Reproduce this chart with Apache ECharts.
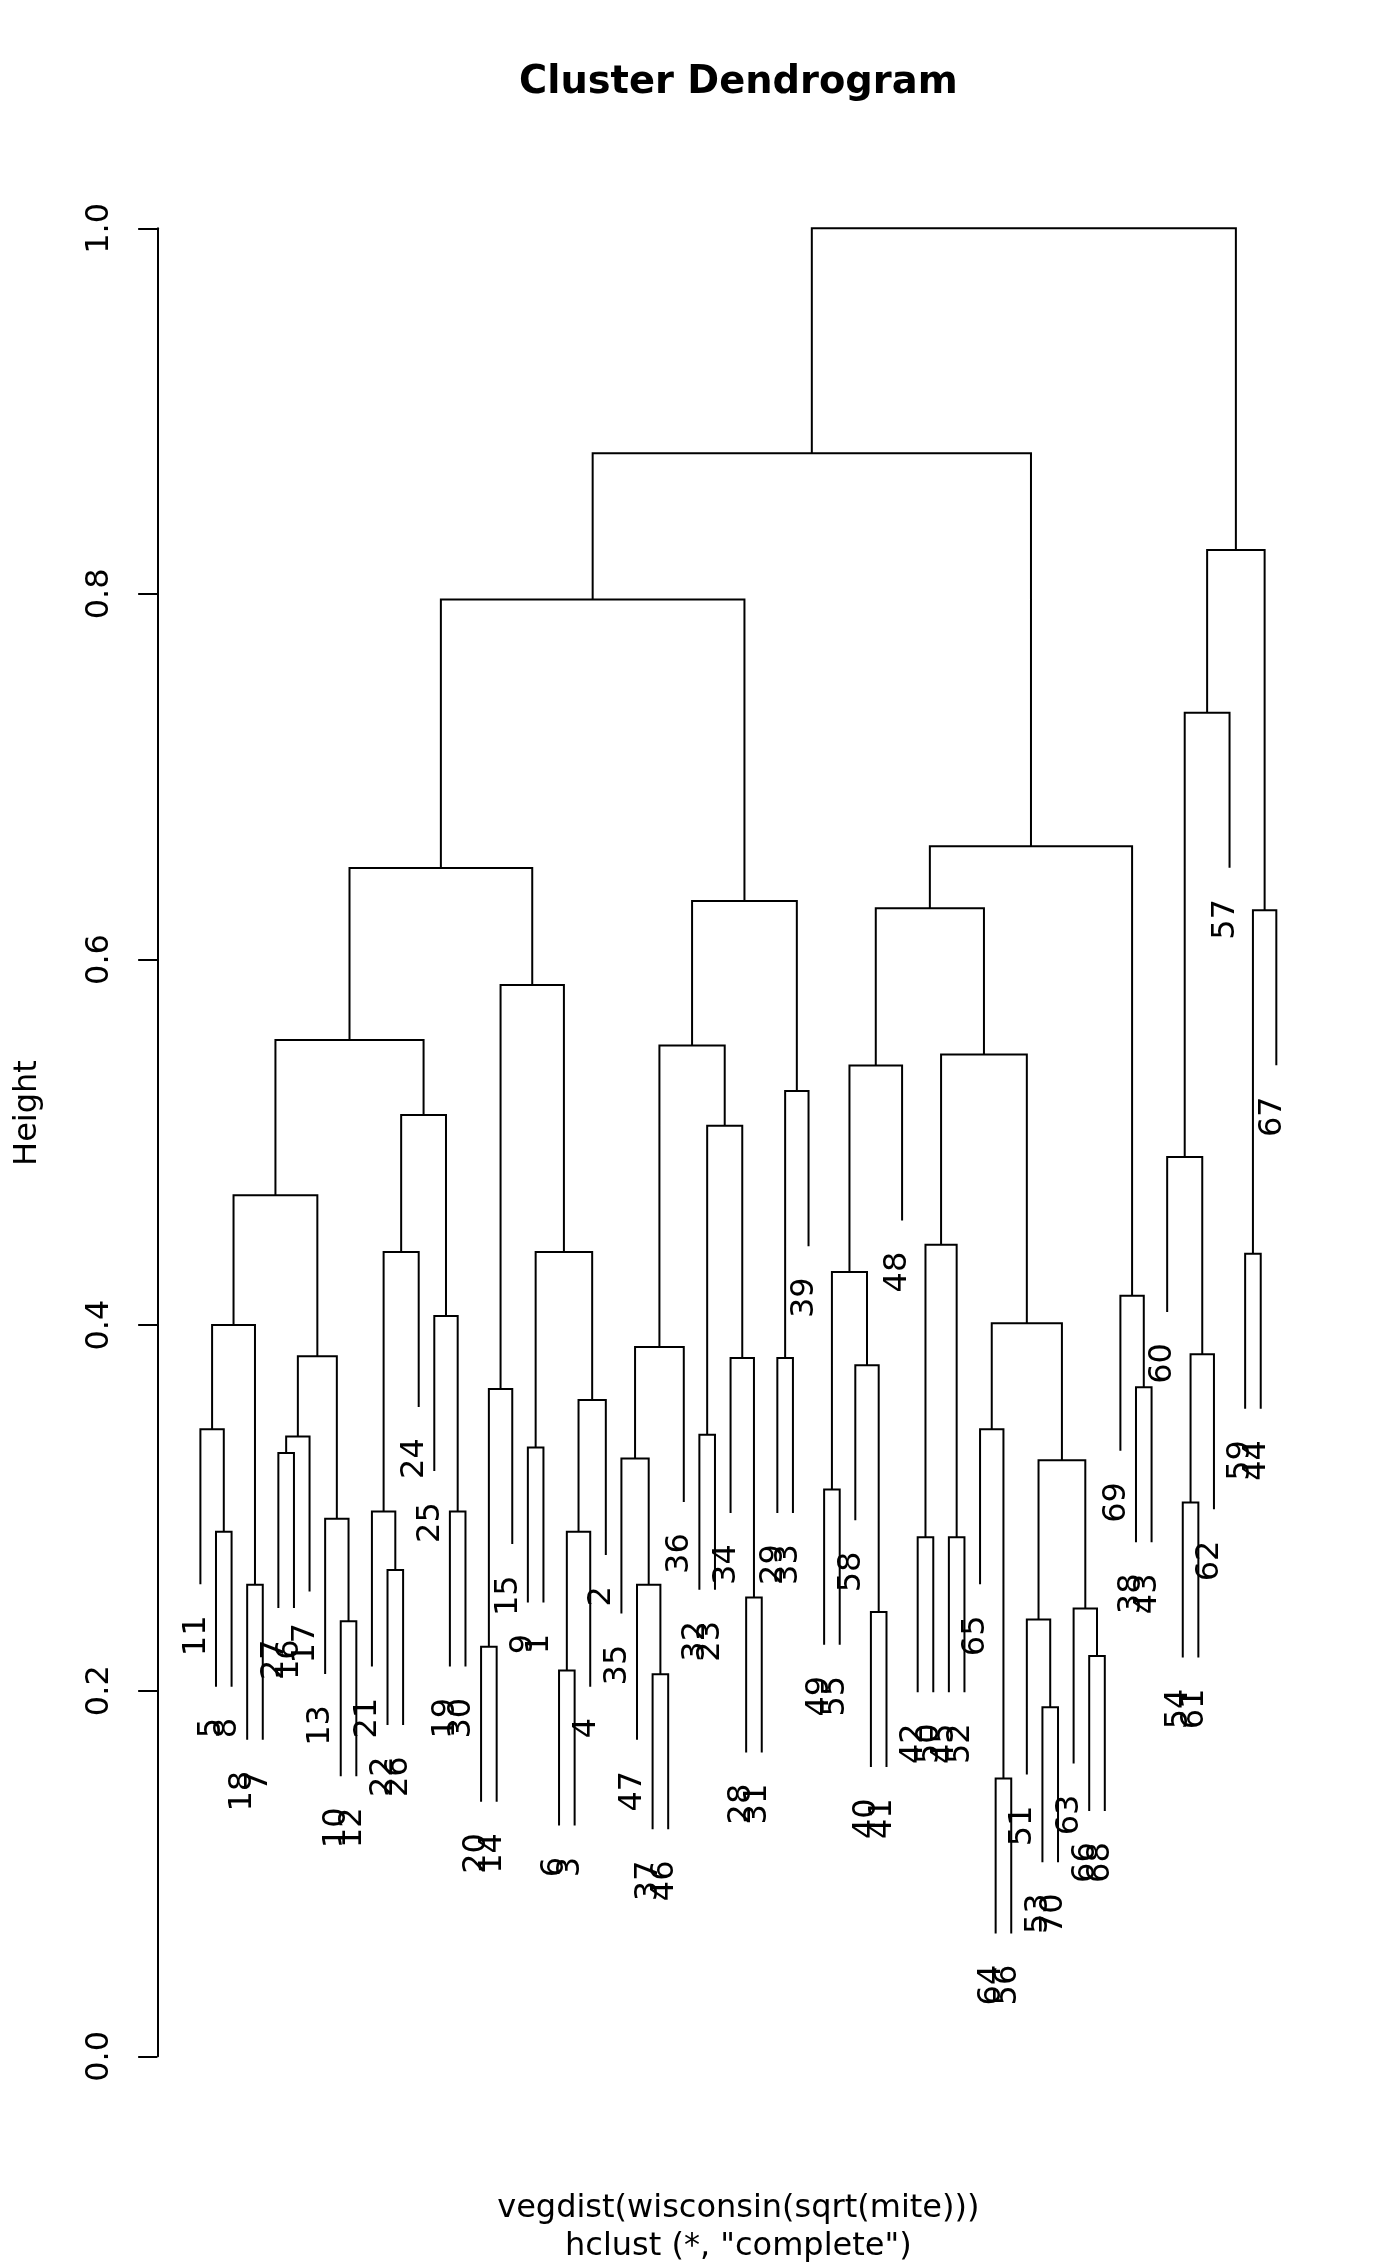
<!DOCTYPE html>
<html><head><meta charset="utf-8">
<script src="https://cdn.jsdelivr.net/npm/echarts@6/dist/echarts.min.js"></script>
<style>html,body{margin:0;padding:0;background:#fff}#chart{width:1400px;height:2266px}</style>
</head><body><div id="chart"></div>
<script>
// Leaf labels in plotting order (left to right)
const leafOrder = [11,5,8,18,7,27,16,17,13,10,12,21,22,26,24,25,19,30,20,14,15,9,1,6,3,4,2,35,47,37,46,36,32,23,34,28,31,29,33,39,49,55,58,40,41,48,42,50,45,52,65,64,56,51,53,70,63,66,68,69,38,43,60,54,61,62,57,59,44,67];
// Merges (R hclust style): negative = observation, positive = earlier merge (1-based)
const mergeLeft  = [-64,-53,-37,-6,-66,-20,-10,-51,-40,-63,-28,-47,-18,-22,-42,-45,-5,4,-13,-21,-19,-54,-49,8,-35,-27,-9,26,-32,-11,-65,18,6,-38,-58,-34,-29,28,22,25,30,31,-25,-69,23,-59,20,27,15,41,-60,29,47,37,45,49,40,50,33,46,55,57,58,61,51,63,65,66,68];
const mergeRight = [-56,-70,-46,-3,-68,-14,-12,2,-41,5,-31,3,-7,-26,-50,-52,-8,-4,7,14,-30,-61,-55,10,12,-16,-1,-17,-23,17,1,-2,-15,-43,9,11,-33,19,-62,-36,13,24,21,34,35,-44,-24,32,16,38,39,36,43,-39,-48,42,52,53,48,-67,56,54,59,44,-57,62,60,64,67];
const mergeHeight = [0.152,0.191,0.209,0.211,0.219,0.224,0.238,0.239,0.243,0.245,0.251,0.258,0.258,0.266,0.284,0.284,0.287,0.287,0.294,0.298,0.298,0.303,0.310,0.326,0.327,0.330,0.333,0.339,0.340,0.343,0.343,0.359,0.365,0.366,0.378,0.382,0.382,0.383,0.384,0.388,0.400,0.401,0.405,0.416,0.429,0.439,0.440,0.440,0.444,0.471,0.492,0.509,0.515,0.528,0.542,0.548,0.553,0.556,0.586,0.627,0.628,0.632,0.650,0.662,0.735,0.797,0.824,0.877,1.000];
const yTicks = [0.0,0.2,0.4,0.6,0.8,1.0];
const titleText = 'Cluster Dendrogram';
const yName = 'Height';
const subLines = ['vegdist(wisconsin(sqrt(mite)))', 'hclust (*, "complete")'];

const n = leafOrder.length;
const pos = {};
leafOrder.forEach((lab, i) => { pos[lab] = i + 1; });
const hMax = Math.max(...mergeHeight), hMin = Math.min(...mergeHeight);
const hang = 0.1 * (hMax - hMin);
const nodeX = [], nodeY = [];
const segData = [], leafData = [];
function ref(r, parentH) {
  if (r < 0) {
    const x = pos[-r], y = parentH - hang;
    leafData.push([x, y, -r]);
    return [x, y];
  }
  return [nodeX[r - 1], nodeY[r - 1]];
}
for (let i = 0; i < mergeHeight.length; i++) {
  const h = mergeHeight[i];
  const a = ref(mergeLeft[i], h), b = ref(mergeRight[i], h);
  nodeX[i] = (a[0] + b[0]) / 2; nodeY[i] = h;
  segData.push([a[0], a[1], b[0], b[1], h]);
}

const FONT = 'DejaVu Sans';
const chart = echarts.init(document.getElementById('chart'), null, {renderer: 'canvas'});
const plotL = 157.36, plotR = 1319.36;
const cx = (plotL + plotR) / 2;
chart.setOption({
  animation: false,
  backgroundColor: '#fff',
  grid: {left: plotL, right: 1400 - plotR, top: 228.3, bottom: 2266 - 2056.3},
  xAxis: {type: 'value', min: 1 - 0.04 * (n - 1), max: n + 0.04 * (n - 1), show: false},
  yAxis: {
    type: 'value', min: yTicks[0], max: yTicks[yTicks.length - 1], interval: 0.2,
    axisLine: {show: true, onZero: false, lineStyle: {color: '#000', width: 2}},
    axisTick: {show: true, inside: false, length: 19.2, lineStyle: {color: '#000', width: 2}},
    splitLine: {show: false},
    axisLabel: {rotate: 90, fontSize: 32, fontFamily: FONT, color: '#000', margin: 42,
      formatter: v => v.toFixed(1)}
  },
  graphic: [
    {type: 'text', x: cx, y: 96 - 0.346 * 38.4, style: {text: titleText, font: 'bold 38.4px "DejaVu Sans"', fill: '#000', align: 'center', verticalAlign: 'middle'}},
    {type: 'text', x: 39 - 0.346 * 32, y: 1113, rotation: Math.PI / 2, style: {text: yName, font: '32px "DejaVu Sans"', fill: '#000', align: 'center', verticalAlign: 'middle'}},
    {type: 'text', x: cx, y: 2220 - 0.346 * 32, style: {text: subLines[0], font: '32px "DejaVu Sans"', fill: '#000', align: 'center', verticalAlign: 'middle'}},
    {type: 'text', x: cx, y: 2258 - 0.346 * 32, style: {text: subLines[1], font: '32px "DejaVu Sans"', fill: '#000', align: 'center', verticalAlign: 'middle'}}
  ],
  series: [
    {
      type: 'custom', name: 'merges', clip: false,
      data: segData,
      encode: {x: [0, 2], y: [1, 3, 4]},
      renderItem: function (params, api) {
        const p1 = api.coord([api.value(0), api.value(1)]);
        const p2 = api.coord([api.value(0), api.value(4)]);
        const p3 = api.coord([api.value(2), api.value(4)]);
        const p4 = api.coord([api.value(2), api.value(3)]);
        return {type: 'polyline', shape: {points: [p1, p2, p3, p4]},
          style: {stroke: '#000', lineWidth: 2, fill: null}};
      }
    },
    {
      type: 'custom', name: 'labels', clip: false,
      data: leafData,
      encode: {x: 0, y: 1},
      renderItem: function (params, api) {
        const p = api.coord([api.value(0), api.value(1)]);
        return {type: 'text', x: p[0] - 4, y: p[1] + 31.2, rotation: Math.PI / 2,
          style: {text: String(api.value(2)), font: '32px "DejaVu Sans"', fill: '#000',
            align: 'right', verticalAlign: 'middle'}};
      }
    }
  ]
});
</script></body></html>
